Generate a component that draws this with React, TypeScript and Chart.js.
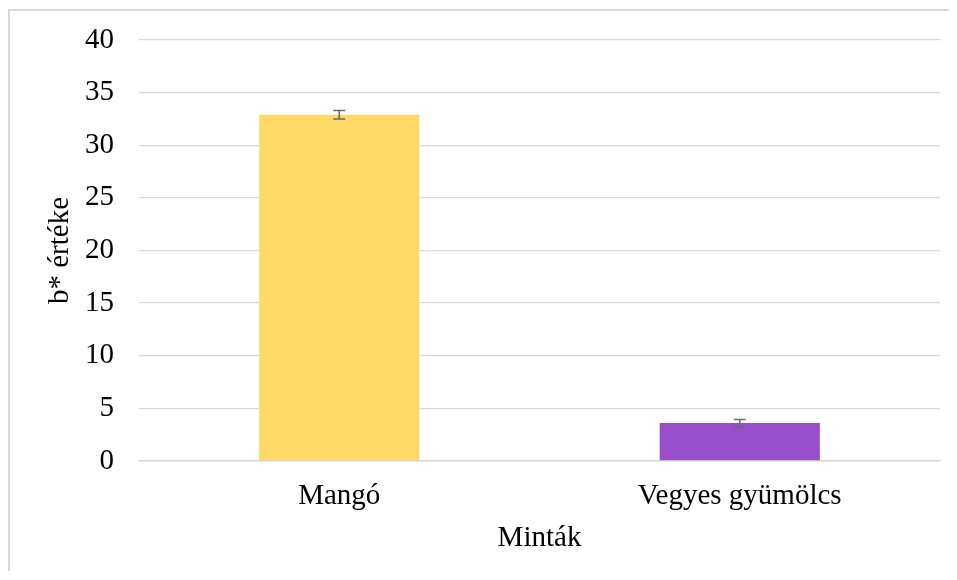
import React, { useEffect, useRef } from "react";
import { Chart, registerables } from "chart.js";

Chart.register(...registerables);

const categories = ["Mangó", "Vegyes gyümölcs"];
const values = [32.9, 3.6];
const errors = [0.4, 0.35];
const barColors = ["#FFD966", "#994FCC"];
const yTicks = [0, 5, 10, 15, 20, 25, 30, 35, 40];
const yTitle = "b* értéke";
const xTitle = "Minták";

const FONT = "'Liberation Serif', 'Times New Roman', serif";

const errorBarPlugin = {
  id: "errorBars",
  afterDatasetsDraw(chart: any) {
    const ctx = chart.ctx;
    const meta = chart.getDatasetMeta(0);
    const yScale = chart.scales.y;
    ctx.save();
    ctx.strokeStyle = "#6b6b6b";
    ctx.lineWidth = 1.6;
    meta.data.forEach((bar: any, i: number) => {
      const x = bar.x;
      const top = yScale.getPixelForValue(values[i] + errors[i]);
      const bot = yScale.getPixelForValue(values[i] - errors[i]);
      ctx.beginPath();
      ctx.moveTo(x, top);
      ctx.lineTo(x, bot);
      ctx.moveTo(x - 6, top);
      ctx.lineTo(x + 6, top);
      ctx.moveTo(x - 6, bot);
      ctx.lineTo(x + 6, bot);
      ctx.stroke();
    });
    ctx.restore();
  },
};

export default function App() {
  const ref = useRef<HTMLCanvasElement>(null);
  useEffect(() => {
    document.body.style.overflow = "hidden";
    if (!ref.current) return;
    const chart = new Chart(ref.current, {
      type: "bar",
      data: {
        labels: categories,
        datasets: [
          {
            data: values,
            backgroundColor: barColors,
            borderWidth: 0,
            barPercentage: 0.4,
            categoryPercentage: 1,
          },
        ],
      },
      plugins: [errorBarPlugin],
      options: {
        responsive: false,
        animation: false,
        devicePixelRatio: 1,
        layout: { padding: { left: 0, right: 17, top: 29, bottom: 0 } },
        plugins: { legend: { display: false }, tooltip: { enabled: false } },
        scales: {
          x: {
            grid: { display: false, drawTicks: false },
            border: { display: true, color: "#d9d9d9", width: 1.5 },
            ticks: { color: "#000", font: { family: FONT, size: 29 }, padding: 18 },
            title: {
              display: true,
              text: xTitle,
              color: "#000",
              font: { family: FONT, size: 29 },
              padding: 15,
            },
            afterFit(scale: any) {
              scale.height = 110;
            },
          },
          y: {
            min: 0,
            max: 40,
            afterBuildTicks(scale: any) {
              scale.ticks = yTicks.map((v) => ({ value: v }));
            },
            grid: { color: "#d9d9d9", lineWidth: 1.3, drawTicks: false },
            border: { display: false },
            ticks: { color: "#000", font: { family: FONT, size: 29 }, padding: 25 },
            title: {
              display: true,
              text: yTitle,
              color: "#000",
              font: { family: FONT, size: 29 },
              padding: 33,
            },
            afterFit(scale: any) {
              scale.width = 129;
              scale.paddingTop = 0;
              scale.paddingBottom = 0;
            },
          },
        },
      },
    } as any);
    return () => chart.destroy();
  }, []);
  return (
    <div
      style={{
        position: "relative",
        top: 1,
        width: 949,
        height: 571,
        marginBottom: -8,
        borderTop: "2px solid #d9d9d9",
        borderLeft: "2px solid #d9d9d9",
        boxSizing: "border-box",
        background: "#fff",
      }}
    >
      <canvas ref={ref} width={947} height={560} style={{ display: "block" }} />
    </div>
  );
}
